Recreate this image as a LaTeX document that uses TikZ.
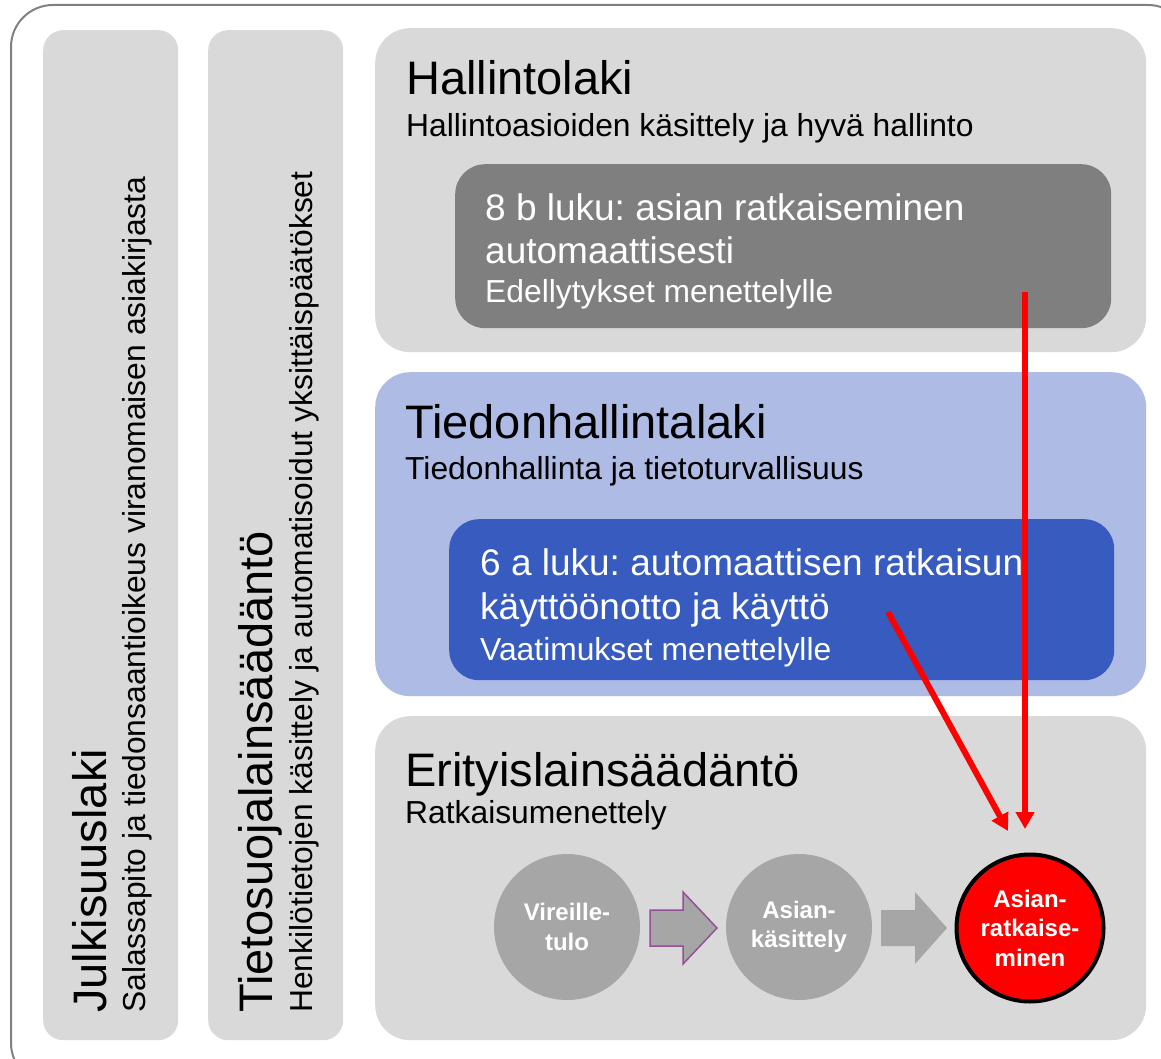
\documentclass[tikz,border=0pt]{standalone}
\usepackage{fontspec}
\setmainfont{Liberation Sans}
\usetikzlibrary{arrows.meta}
\frenchspacing
\definecolor{panelgray}{HTML}{D9D9D9}
\definecolor{darkgray}{HTML}{7F7F7F}
\definecolor{lightblue}{RGB}{174,187,229}
\definecolor{darkblue}{RGB}{55,91,190}
\definecolor{circgray}{HTML}{A6A6A6}
\definecolor{framegray}{HTML}{808080}
\definecolor{arrowpurple}{RGB}{150,80,150}
\begin{document}
\begin{tikzpicture}[x=1pt,y=-1pt,
  column/.style={fill=panelgray, rounded corners=20pt, anchor=north west, inner sep=0pt, minimum width=135pt, minimum height=1010pt},
  panel/.style={rounded corners=35pt, anchor=north west, inner sep=0pt, minimum width=771pt, minimum height=324pt},
  inbox/.style={rounded corners=30pt, anchor=north west, inner sep=0pt},
  titletext/.style={anchor=base west, inner sep=0pt, font=\fontsize{47}{52}\selectfont},
  subtext/.style={anchor=base west, inner sep=0pt, font=\fontsize{31.8}{36}\selectfont},
  boxtext/.style={anchor=base west, inner sep=0pt, text=white, font=\fontsize{37}{42}\selectfont},
  boxsub/.style={anchor=base west, inner sep=0pt, text=white, font=\fontsize{31.8}{36}\selectfont},
  stage/.style={circle, fill=circgray, minimum size=146pt, inner sep=0pt, text=white, align=center, font=\bfseries\fontsize{24}{29.5}\selectfont},
  redarrow/.style={red, line width=6pt, -{Triangle[width=18pt,length=17pt]}}
]
\useasboundingbox (0,0) rectangle (1161,1059);
\clip (0,0) rectangle (1161,1059);
% outer frame
\draw[framegray, line width=2pt, rounded corners=42pt] (11,5) rectangle (1190,1085);

% columns
\node[column] (col1) at (43,30) {};
\node[column] (col2) at (208,30) {};
\node[rotate=90, titletext] (julk) at (106,1013) {Julkisuuslaki};
\node[rotate=90, subtext] (julksub) at (145,1013) {Salassapito ja tiedonsaantioikeus viranomaisen asiakirjasta};
\node[rotate=90, titletext] (tieto) at (272,1013) {Tietosuojalainsäädäntö};
\node[rotate=90, subtext] (tietosub) at (312,1013) {Henkilötietojen käsittely ja automatisoidut yksittäispäätökset};

% panels
\node[panel, fill=panelgray] (hall) at (375,28) {};
\node[panel, fill=lightblue] (tied) at (375,372) {};
\node[panel, fill=panelgray] (erit) at (375,716) {};

% Hallintolaki
\node[titletext] (hallt) at (406,95) {Hallintolaki};
\node[subtext] (halls) at (406,137) {Hallintoasioiden käsittely ja hyvä hallinto};
\node[inbox, fill=darkgray, minimum width=656pt, minimum height=164pt] (hbox) at (455,164) {};
\node[boxtext] (hb1) at (485,221) {8 b luku: asian ratkaiseminen};
\node[boxtext] (hb2) at (485,264) {automaattisesti};
\node[boxsub] (hb3) at (485,302) {Edellytykset menettelylle};

% Tiedonhallintalaki
\node[titletext] (tiedt) at (405,438) {Tiedonhallintalaki};
\node[subtext] (tieds) at (405,479) {Tiedonhallinta ja tietoturvallisuus};
\node[inbox, fill=darkblue, minimum width=665pt, minimum height=161pt] (tbox) at (449,519) {};
\node[boxtext] (tb1) at (480,575) {6 a luku: automaattisen ratkaisun};
\node[boxtext] (tb2) at (480,619) {käyttöönotto ja käyttö};
\node[boxsub] (tb3) at (480,660) {Vaatimukset menettelylle};

% Erityislainsaadanto
\node[titletext] (eritt) at (405,786) {Erityislainsäädäntö};
\node[subtext] (erits) at (405,823) {Ratkaisumenettely};

% stages
\node[stage] (c1) at (567,927) {Vireille-\\tulo};
\node[stage] (c2) at (799,927) {Asian-\\käsittely};
\node[stage, fill=red, draw=black, line width=4pt, minimum size=147pt] (c3) at (1030,928) {Asian-\\ratkaise-\\minen};

% block arrows
\draw[arrowpurple, fill=circgray, line width=1.5pt]
  (650,910) -- (683,910) -- (683,892) -- (717,928) -- (683,964) -- (683,946) -- (650,946) -- cycle;
\path[fill=circgray]
  (881,910) -- (915,910) -- (915,892) -- (947,928) -- (915,964) -- (915,946) -- (881,946) -- cycle;

% red arrows
\coordinate (v1) at (1025,292);
\coordinate (v2) at (1025,829);
\coordinate (d1) at (888,612);
\coordinate (d2) at (1008,831);
\draw[redarrow] (v1) -- (v2);
\draw[redarrow] (d1) -- (d2);
\end{tikzpicture}
\end{document}
